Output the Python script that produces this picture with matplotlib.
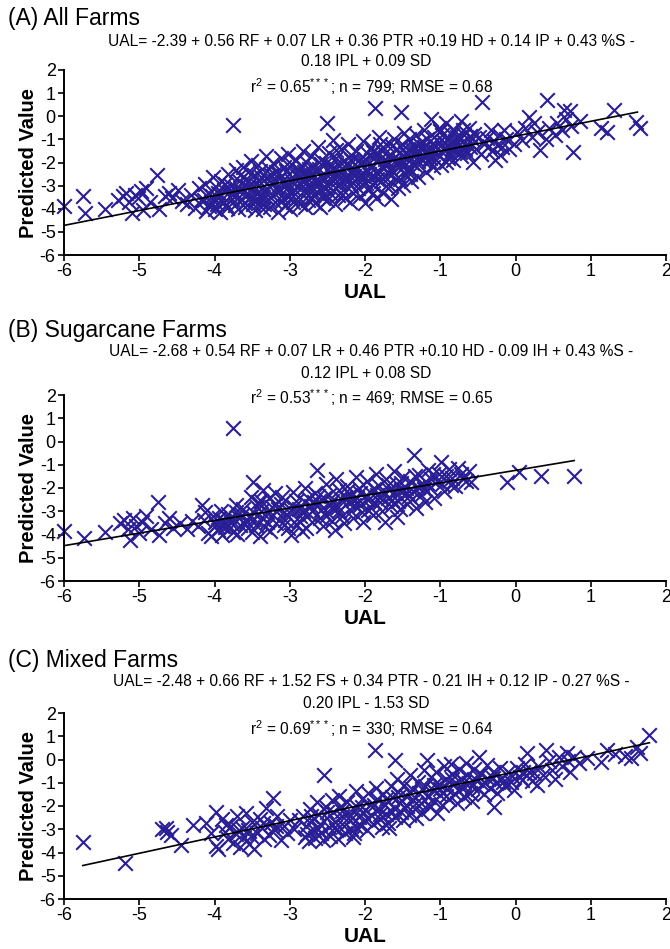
import matplotlib
matplotlib.use("Agg")
import matplotlib.pyplot as plt

plt.rcParams['font.family'] = ['Liberation Sans', 'DejaVu Sans']
plt.rcParams['mathtext.fontset'] = 'custom'
plt.rcParams['mathtext.rm'] = 'Liberation Sans'
plt.rcParams['mathtext.it'] = 'Liberation Sans:italic'

# ---------------- data ----------------
titles = ["(A) All Farms", "(B) Sugarcane Farms", "(C) Mixed Farms"]
eq_line1 = ["UAL= -2.39 + 0.56 RF + 0.07 LR + 0.36 PTR +0.19 HD + 0.14 IP + 0.43 %S -",
            "UAL= -2.68 + 0.54 RF + 0.07 LR + 0.46 PTR +0.10 HD - 0.09 IH + 0.43 %S -",
            "UAL= -2.48 + 0.66 RF + 1.52 FS + 0.34 PTR - 0.21 IH + 0.12 IP - 0.27 %S -"]
eq_line2 = ["0.18 IPL + 0.09 SD", "0.12 IPL + 0.08 SD", "0.20 IPL - 1.53 SD"]
r2_vals = ["0.65", "0.53", "0.69"]
n_vals = ["799", "469", "330"]
rmse_vals = ["0.68", "0.65", "0.64"]

x_ticks = [-6, -5, -4, -3, -2, -1, 0, 1, 2]
y_ticks = [-6, -5, -4, -3, -2, -1, 0, 1, 2]

fit_a_x = [-6.0, 1.62]
fit_a_y = [-4.72, 0.18]
fit_b_x = [-6.0, 0.78]
fit_b_y = [-4.48, -0.82]
fit_c_x = [-5.75, 1.78]
fit_c_y = [-4.56, 0.72]

a_pairs = [
(-6.00,-3.90),(-5.75,-3.45),(-5.72,-4.20),(-5.45,-4.00),(-5.28,-3.60),(-5.22,-3.45),(-5.18,-3.30),(-5.13,-3.70),
(-5.10,-4.20),(-5.06,-3.40),(-5.02,-3.55),(-4.98,-3.25),(-4.95,-4.05),(-4.91,-3.10),(-4.86,-3.70),(-4.76,-2.55),
(-4.74,-4.00),(-4.66,-3.45),(-4.61,-3.30),(-4.56,-3.55),(-4.49,-3.20),(-4.43,-3.65),(-4.36,-3.80),(-4.31,-3.40),
(-4.26,-3.95),(-4.21,-3.10),(-4.18,-3.60),
(-4.12,-2.92),(-4.09,-3.31),(-4.14,-3.62),(-4.07,-3.88),(-4.11,-4.10),
(-4.02,-2.62),(-3.98,-3.08),(-4.03,-3.47),(-3.97,-3.79),(-4.00,-4.02),
(-3.92,-2.81),(-3.88,-3.19),(-3.91,-3.42),(-3.87,-3.70),(-3.93,-4.12),
(-3.82,-2.48),(-3.78,-3.02),(-3.81,-3.29),(-3.77,-3.58),(-3.83,-3.96),
(-3.75,-0.38),
(-3.72,-2.31),(-3.68,-2.79),(-3.71,-3.12),(-3.67,-3.49),(-3.73,-3.82),(-3.69,-4.02),
(-3.62,-2.18),(-3.58,-2.71),(-3.61,-2.98),(-3.57,-3.31),(-3.63,-3.61),(-3.59,-3.92),
(-3.52,-1.92),(-3.48,-2.52),(-3.51,-2.88),(-3.47,-3.18),(-3.53,-3.49),(-3.49,-3.81),(-3.46,-4.06),
(-3.42,-2.09),(-3.38,-2.61),(-3.41,-2.82),(-3.37,-3.12),(-3.43,-3.38),(-3.39,-3.71),(-3.36,-3.99),
(-3.32,-1.72),(-3.28,-2.28),(-3.31,-2.69),(-3.27,-3.02),(-3.33,-3.29),(-3.29,-3.58),(-3.26,-3.91),
(-3.22,-2.02),(-3.18,-2.42),(-3.21,-2.79),(-3.17,-3.08),(-3.23,-3.41),(-3.19,-3.69),(-3.16,-4.12),
(-3.12,-1.81),(-3.08,-2.19),(-3.11,-2.61),(-3.07,-2.88),(-3.13,-3.19),(-3.09,-3.52),(-3.06,-3.86),
(-3.02,-1.62),(-2.98,-2.08),(-3.01,-2.49),(-2.97,-2.81),(-3.03,-3.09),(-2.99,-3.38),(-2.96,-3.71),(-3.00,-4.01),
(-2.92,-1.88),(-2.88,-2.31),(-2.91,-2.58),(-2.87,-2.91),(-2.93,-3.21),(-2.89,-3.49),(-2.86,-3.79),
(-2.82,-1.52),(-2.78,-1.98),(-2.81,-2.41),(-2.77,-2.69),(-2.83,-3.02),(-2.79,-3.31),(-2.76,-3.62),(-2.80,-3.92),
(-2.72,-1.71),(-2.68,-2.19),(-2.71,-2.52),(-2.67,-2.79),(-2.73,-3.12),(-2.69,-3.41),(-2.66,-3.76),
(-2.62,-1.31),(-2.58,-1.91),(-2.61,-2.29),(-2.57,-2.61),(-2.63,-2.88),(-2.59,-3.19),(-2.56,-3.52),(-2.60,-3.91),
(-2.51,-0.29),(-2.48,-1.61),(-2.52,-2.02),(-2.47,-2.38),(-2.53,-2.71),(-2.49,-3.02),(-2.46,-3.31),(-2.50,-3.62),
(-2.42,-1.02),(-2.38,-1.79),(-2.41,-2.21),(-2.37,-2.49),(-2.43,-2.81),(-2.39,-3.09),(-2.36,-3.42),(-2.40,-3.81),
(-2.32,-1.41),(-2.28,-1.92),(-2.31,-2.28),(-2.27,-2.61),(-2.33,-2.91),(-2.29,-3.18),(-2.26,-3.52),
(-2.22,-1.19),(-2.18,-1.69),(-2.21,-2.09),(-2.17,-2.41),(-2.23,-2.69),(-2.19,-2.98),(-2.16,-3.31),(-2.20,-3.69),
(-2.12,-1.49),(-2.08,-1.88),(-2.11,-2.19),(-2.07,-2.52),(-2.13,-2.81),(-2.09,-3.12),(-2.06,-3.46),
(-2.02,-1.09),(-1.98,-1.61),(-2.01,-1.98),(-1.97,-2.31),(-2.03,-2.59),(-1.99,-2.88),(-1.96,-3.21),(-2.00,-3.76),
(-1.87,0.36),(-1.92,-1.31),(-1.88,-1.79),(-1.91,-2.11),(-1.86,-2.41),(-1.93,-2.69),(-1.89,-2.99),(-1.85,-3.52),
(-1.82,-0.91),(-1.78,-1.49),(-1.81,-1.88),(-1.77,-2.21),(-1.83,-2.49),(-1.79,-2.81),(-1.76,-3.31),
(-1.72,-1.19),(-1.68,-1.71),(-1.71,-2.02),(-1.67,-2.29),(-1.73,-2.61),(-1.69,-2.92),(-1.66,-3.58),
(-1.62,-0.98),(-1.58,-1.42),(-1.61,-1.79),(-1.57,-2.12),(-1.63,-2.39),(-1.59,-2.71),(-1.56,-3.09),
(-1.52,0.18),(-1.48,-0.71),(-1.51,-1.21),(-1.47,-1.61),(-1.53,-1.92),(-1.49,-2.21),(-1.46,-2.52),(-1.50,-2.98),
(-1.42,-0.98),(-1.38,-1.41),(-1.41,-1.72),(-1.37,-2.01),(-1.43,-2.29),(-1.39,-2.79),
(-1.32,-0.79),(-1.28,-1.19),(-1.31,-1.52),(-1.27,-1.81),(-1.33,-2.09),(-1.29,-2.61),
(-1.22,-0.61),(-1.18,-0.98),(-1.21,-1.31),(-1.17,-1.62),(-1.23,-1.91),(-1.19,-2.41),
(-1.12,-0.12),(-1.08,-0.89),(-1.11,-1.21),(-1.07,-1.52),(-1.13,-1.79),(-1.09,-2.19),
(-1.02,-0.49),(-0.98,-0.81),(-1.01,-1.12),(-0.97,-1.41),(-1.03,-1.69),(-0.99,-2.09),
(-0.92,-0.31),(-0.88,-0.99),(-0.91,-1.29),(-0.87,-1.61),(-0.93,-1.96),
(-0.82,-0.59),(-0.78,-0.91),(-0.81,-1.21),(-0.77,-1.49),(-0.83,-1.89),
(-0.72,-0.21),(-0.68,-0.79),(-0.71,-1.11),(-0.67,-1.41),(-0.73,-1.71),
(-0.62,-0.52),(-0.58,-0.98),(-0.61,-1.31),(-0.57,-1.98),
(-0.44,0.60),(-0.48,-0.88),(-0.42,-1.19),(-0.46,-1.62),
(-0.32,-0.61),(-0.28,-1.09),(-0.31,-1.49),(-0.27,-1.91),
(-0.22,-0.79),(-0.18,-1.31),(-0.21,-1.69),
(-0.12,-0.98),(-0.08,-1.42),
(0.02,-0.69),(-0.02,-1.21),
(0.12,-0.49),(0.08,-1.01),
(0.18,-0.03),(0.22,-0.89),(0.25,-0.31),
(0.32,-1.46),(0.28,-0.69),
(0.42,0.70),(0.45,-0.49),(0.40,-0.99),
(0.55,-0.29),(0.52,-0.81),
(0.64,0.29),(0.67,-0.11),(0.62,-0.61),
(0.72,0.22),(0.74,-0.41),
(0.76,-1.55),(0.86,-0.19),
(1.14,-0.50),(1.22,-0.70),(1.31,0.27),(1.60,-0.25),(1.65,-0.52),
(-3.95,-3.55),(-3.85,-3.85),(-3.65,-3.20),(-3.55,-2.40),(-3.45,-2.95),(-3.35,-3.50),(-3.25,-2.55),(-3.15,-3.25),
(-3.05,-2.35),(-2.95,-2.95),(-2.85,-2.15),(-2.75,-2.95),(-2.65,-2.40),(-2.55,-3.05),(-2.45,-2.15),(-2.35,-2.70),
(-2.25,-2.05),(-2.15,-2.60),(-2.05,-2.05),(-1.95,-2.50),(-1.85,-1.60),(-1.75,-2.05),(-1.65,-2.55),(-1.55,-1.60),
(-1.45,-2.05),(-1.35,-1.65),(-1.25,-1.40),(-1.15,-1.95),(-1.05,-1.30),(-0.95,-1.10),(-0.85,-1.40),(-0.75,-0.95),
(-0.65,-1.20),(-0.55,-0.75),(-3.60,-3.75),(-3.10,-3.65),(-2.70,-3.55),(-2.30,-3.40),(-1.90,-3.30),(-1.70,-3.10),
(-4.05,-3.70),(-3.96,-3.30),(-3.86,-2.95),(-3.76,-3.35),(-3.66,-2.55),(-3.56,-3.05),(-3.46,-3.60),(-3.40,-2.35),
(-3.34,-3.80),(-3.24,-2.90),(-3.14,-2.45),(-3.04,-2.95),(-2.98,-3.55),(-2.90,-2.45),(-2.84,-2.75),(-2.74,-2.30),
(-2.70,-3.25),(-2.64,-2.70),(-2.58,-2.05),(-2.54,-3.35),(-2.44,-2.60),(-2.38,-1.45),(-2.34,-2.10),(-2.24,-2.85),
(-2.18,-1.90),(-2.14,-2.30),(-2.04,-2.75),(-2.00,-1.85),(-1.94,-2.20),(-1.90,-1.55),(-1.84,-2.70),(-1.80,-1.20),
(-1.74,-1.85),(-1.70,-2.45),(-1.64,-1.30),(-1.60,-1.95),(-1.54,-2.70),(-1.50,-1.40),(-1.44,-1.85),(-1.40,-2.50),
(-1.34,-1.35),(-1.30,-1.95),(-1.24,-1.10),(-1.20,-1.75),(-1.14,-1.40),(-1.06,-1.90),(-1.00,-0.65),(-0.94,-1.45),
(-0.90,-1.80),(-0.84,-0.80),(-0.80,-1.05),(-0.74,-1.55),(-0.70,-0.60),(-0.64,-1.60),(-0.60,-0.85),(-0.52,-1.40),
(-0.38,-0.95),(-0.35,-1.30),(-0.25,-1.25),(-0.15,-0.60),
]

b_pairs = [
(-6.00,-3.85),(-5.74,-4.15),(-5.45,-3.90),(-5.26,-3.50),(-5.20,-3.38),(-5.15,-3.75),(-5.12,-4.25),(-5.08,-3.30),
(-5.04,-3.62),(-5.00,-3.95),(-4.96,-3.45),(-4.91,-3.20),(-4.85,-3.75),(-4.75,-2.60),(-4.74,-4.00),(-4.66,-3.50),
(-4.61,-3.30),(-4.55,-3.72),(-4.46,-3.52),(-4.36,-3.78),(-4.30,-3.40),(-4.22,-3.62),(-4.17,-2.75),(-4.12,-3.05),
(-4.08,-3.92),(-4.14,-3.38),(-4.05,-4.05),
(-4.02,-3.21),(-3.98,-3.58),(-3.96,-3.81),(-3.92,-2.98),(-3.88,-3.42),(-3.86,-3.69),(-3.90,-4.02),
(-3.75,0.60),
(-3.82,-3.12),(-3.78,-3.52),(-3.76,-3.88),(-3.72,-2.71),(-3.68,-3.28),(-3.66,-3.61),(-3.70,-3.99),
(-3.62,-2.92),(-3.58,-3.41),(-3.56,-3.72),(-3.52,-2.38),(-3.49,-1.75),(-3.47,-3.09),(-3.45,-3.58),(-3.50,-3.91),
(-3.42,-2.61),(-3.38,-2.99),(-3.35,-2.10),(-3.36,-3.32),(-3.33,-3.69),(-3.40,-4.05),
(-3.28,-2.42),(-3.24,-2.81),(-3.22,-3.18),(-3.18,-3.51),(-3.26,-3.85),(-3.20,-2.21),
(-3.12,-2.68),(-3.08,-3.02),(-3.06,-3.38),(-3.02,-3.72),(-3.10,-2.39),(-2.98,-4.00),
(-2.96,-2.19),(-2.92,-2.58),(-2.88,-2.91),(-2.86,-3.22),(-2.90,-3.58),(-2.84,-3.85),
(-2.80,-2.02),(-2.76,-2.42),(-2.72,-2.79),(-2.74,-3.11),(-2.70,-3.48),(-2.78,-3.72),
(-2.64,-1.23),(-2.66,-2.21),(-2.62,-2.61),(-2.58,-2.95),(-2.60,-3.31),(-2.56,-3.62),
(-2.52,-1.82),(-2.48,-2.31),(-2.46,-2.71),(-2.50,-3.05),(-2.44,-3.41),(-2.40,-3.80),
(-2.38,-1.62),(-2.34,-2.08),(-2.32,-2.49),(-2.36,-2.82),(-2.30,-3.19),(-2.28,-3.52),
(-2.24,-1.91),(-2.20,-2.29),(-2.22,-2.62),(-2.18,-2.98),(-2.16,-3.29),
(-2.12,-1.52),(-2.08,-2.01),(-2.10,-2.41),(-2.06,-2.72),(-2.03,-3.46),(-2.04,-3.05),
(-1.98,-1.72),(-1.94,-2.19),(-1.96,-2.52),(-1.92,-2.85),(-1.90,-3.18),
(-1.86,-1.39),(-1.82,-1.91),(-1.84,-2.31),(-1.80,-2.62),(-1.78,-2.98),(-1.74,-3.46),
(-1.72,-1.61),(-1.68,-2.08),(-1.70,-2.42),(-1.66,-2.79),(-1.58,-3.25),
(-1.62,-1.29),(-1.58,-1.82),(-1.60,-2.21),(-1.56,-2.55),(-1.54,-2.92),
(-1.50,-1.51),(-1.46,-1.98),(-1.48,-2.32),(-1.44,-2.68),
(-1.35,-0.59),(-1.40,-1.72),(-1.36,-2.12),(-1.38,-2.49),(-1.32,-2.85),
(-1.28,-1.42),(-1.24,-1.88),(-1.26,-2.28),(-1.20,-2.62),
(-1.16,-1.21),(-1.12,-1.62),(-1.14,-2.02),(-1.08,-2.41),
(-0.99,-0.87),(-1.02,-1.39),(-0.98,-1.81),(-0.95,-2.12),
(-0.88,-1.19),(-0.84,-1.58),(-0.77,-1.15),(-0.80,-1.92),
(-0.72,-1.39),(-0.66,-1.72),(-0.59,-1.75),(-0.62,-1.29),
(-0.11,-1.75),(0.05,-1.30),(0.34,-1.50),(0.78,-1.50),
(-3.94,-3.30),(-3.80,-3.70),(-3.64,-3.15),(-3.54,-3.25),(-3.44,-2.80),(-3.30,-3.05),(-3.16,-2.90),(-3.04,-3.15),
(-2.94,-2.80),(-2.82,-3.00),(-2.68,-2.60),(-2.54,-2.45),(-2.42,-2.90),(-2.26,-2.40),(-2.14,-2.75),(-2.00,-2.35),
(-1.88,-2.60),(-1.76,-2.20),(-1.64,-2.50),(-1.52,-2.10),(-1.42,-2.35),(-1.30,-1.95),(-1.18,-1.80),(-1.04,-1.70),
(-4.00,-3.45),(-3.90,-3.65),(-3.80,-3.35),(-3.72,-3.05),(-3.60,-3.55),(-3.48,-3.35),(-3.38,-2.55),(-3.30,-3.45),
(-3.18,-2.70),(-3.08,-3.60),(-2.98,-2.95),(-2.88,-3.40),(-2.80,-2.60),(-2.70,-3.00),(-2.62,-2.35),(-2.52,-3.20),
(-2.44,-2.55),(-2.34,-3.00),(-2.24,-2.15),(-2.16,-2.50),(-2.06,-2.20),(-1.96,-2.95),(-1.88,-2.05),(-1.80,-2.40),
(-1.70,-1.85),(-1.62,-2.65),(-1.52,-1.80),(-1.44,-2.20),(-1.34,-1.50),(-1.22,-2.05),(-1.10,-1.40),(-0.92,-1.50),
(-0.86,-1.85),(-0.70,-1.60),
]

c_pairs = [
(-5.75,-3.53),(-5.19,-4.45),(-4.70,-3.00),(-4.64,-2.95),(-4.63,-3.12),(-4.58,-3.25),(-4.44,-3.68),(-4.29,-2.80),
(-4.11,-2.73),(-4.05,-3.15),(-3.98,-2.25),(-3.98,-3.70),(-3.95,-3.85),
(-3.90,-2.55),(-3.86,-3.10),(-3.82,-3.40),(-3.78,-2.85),(-3.75,-3.60),(-3.72,-3.20),(-3.70,-2.45),(-3.66,-3.75),
(-3.64,-2.95),(-3.61,-3.35),(-3.58,-2.30),(-3.56,-3.05),(-3.54,-3.65),(-3.50,-2.70),(-3.47,-3.85),(-3.44,-3.15),
(-3.40,-2.55),(-3.37,-2.95),(-3.34,-3.40),(-3.31,-2.10),(-3.28,-3.25),(-3.25,-2.75),(-3.22,-1.65),(-3.20,-3.05),
(-3.17,-2.45),(-3.12,-3.45),(-3.08,-2.85),(-3.04,-3.15),(-3.00,-2.60),(-2.95,-3.00),
(-2.82,-2.42),(-2.79,-2.88),(-2.77,-3.21),(-2.75,-3.52),(-2.73,-2.11),(-2.70,-2.65),(-2.68,-3.02),(-2.66,-3.38),
(-2.64,-1.82),(-2.62,-2.35),(-2.60,-2.78),(-2.58,-3.15),(-2.56,-3.48),(-2.54,-0.67),(-2.52,-2.05),(-2.50,-2.52),
(-2.48,-2.92),(-2.46,-3.28),(-2.44,-1.75),(-2.42,-2.25),(-2.40,-2.68),(-2.38,-3.05),(-2.36,-3.42),(-2.34,-1.55),
(-2.32,-2.02),(-2.30,-2.45),(-2.28,-2.85),(-2.26,-3.18),(-2.24,-1.82),(-2.22,-2.28),(-2.20,-2.62),(-2.18,-2.98),
(-2.16,-3.35),(-2.14,-3.17),(-2.12,-1.35),(-2.10,-2.05),(-2.08,-2.48),(-2.06,-2.82),(-2.04,-1.68),(-2.02,-2.25),
(-2.00,-2.62),(-1.98,-3.02),(-1.96,-1.45),(-1.94,-1.95),(-1.92,-2.38),(-1.90,-2.78),
(-1.87,0.41),(-1.86,-1.22),(-1.84,-1.72),(-1.82,-2.15),(-1.80,-2.55),(-1.78,-2.92),(-1.76,-1.48),(-1.74,-1.95),
(-1.72,-2.35),(-1.70,-2.72),(-1.68,-2.95),(-1.66,-1.15),(-1.64,-1.62),(-1.62,-2.08),(-1.60,0.00),(-1.60,-2.48),
(-1.58,-0.85),(-1.56,-1.38),(-1.54,-1.85),(-1.52,-2.25),(-1.50,-2.62),(-1.48,-1.08),(-1.46,-1.55),(-1.44,-1.98),
(-1.42,-2.38),(-1.40,-0.65),(-1.38,-1.28),(-1.36,-1.75),(-1.34,-2.15),(-1.32,-2.52),(-1.30,-0.95),(-1.28,-1.45),
(-1.26,-1.88),(-1.24,-2.28),(-1.22,-0.45),(-1.20,-1.15),(-1.17,-0.02),(-1.16,-1.62),(-1.14,-2.05),(-1.12,-0.75),
(-1.10,-1.32),(-1.08,-1.78),(-1.04,-2.30),(-1.05,-0.55),(-1.02,-1.05),(-1.00,-1.52),(-0.98,-1.95),(-0.95,-0.30),
(-0.93,-0.85),(-0.91,-1.25),(-0.89,-1.68),(-0.86,-0.20),(-0.84,-0.62),(-0.82,-1.05),(-0.80,-1.48),(-0.78,-1.88),
(-0.75,-0.40),(-0.73,-0.85),(-0.71,-1.22),(-0.69,-1.62),(-0.66,-0.15),(-0.64,-0.65),(-0.62,-1.02),(-0.60,-1.42),
(-0.58,-1.78),(-0.55,-0.42),(-0.52,-0.88),(-0.50,-1.25),(-0.48,0.10),(-0.46,-0.62),(-0.44,-1.05),(-0.42,-1.48),
(-0.38,-0.25),(-0.36,-0.82),(-0.34,-1.22),(-0.30,-0.55),(-0.28,-2.04),(-0.26,-1.02),(-0.24,-1.42),(-0.20,-0.35),
(-0.18,-0.78),(-0.14,-1.15),(-0.10,-0.55),(-0.06,-0.95),(-0.02,-1.30),(0.02,-0.38),(0.06,-0.75),(0.08,-0.90),
(0.12,-0.18),(0.15,0.27),(0.18,-0.55),(0.22,-0.92),(0.28,-1.10),(0.30,-0.30),(0.36,-0.65),(0.40,0.41),
(0.44,-0.05),(0.48,-0.45),(0.52,-0.82),(0.58,0.10),(0.62,-0.30),(0.68,0.27),(0.70,-0.05),(0.72,-0.55),
(0.78,0.12),(0.85,-0.15),(0.95,0.05),(1.14,-0.10),(1.22,0.41),(1.32,0.25),(1.45,0.15),(1.53,0.06),
(1.61,0.54),(1.65,0.30),(1.77,1.05),
(-3.85,-2.80),(-3.68,-3.05),(-3.52,-3.30),(-3.35,-2.75),(-3.18,-2.85),(-2.88,-2.60),(-2.80,-3.35),(-2.72,-2.45),
(-2.62,-3.00),(-2.50,-2.25),(-2.40,-2.90),(-2.30,-2.20),(-2.20,-2.45),(-2.12,-2.90),(-2.04,-2.05),(-1.96,-2.55),
(-1.88,-1.95),(-1.80,-2.35),(-1.72,-1.70),(-1.64,-2.25),(-1.56,-1.60),(-1.48,-2.05),(-1.40,-1.45),(-1.32,-1.85),
(-1.24,-1.25),(-1.16,-1.90),(-1.08,-1.10),(-1.00,-1.25),(-0.92,-1.55),(-0.84,-0.85),(-0.76,-1.30),(-0.68,-0.95),
(-0.58,-1.15),(-0.50,-0.70),(-0.40,-1.00),(-0.30,-0.80),(-0.16,-0.95),(-0.04,-0.70),(0.10,-0.55),(0.25,-0.60),
]

# ---------------- figure ----------------
W, H = 670, 949
fig = plt.figure(figsize=(W / 100, H / 100), dpi=100)

marker_color = "#2A1E96"

# axes placement in pixels: (left, top, right, bottom)
ax_px = [(64, 70, 666, 255), (64, 395, 666, 581), (64, 713, 666, 899)]
title_y = [18, 330, 660]
eq1_y = [41, 352, 682]
eq2_y = [62, 373, 704]
r2_y = [87, 398, 729]

pairs_all = [a_pairs, b_pairs, c_pairs]
fits = [(fit_a_x, fit_a_y), (fit_b_x, fit_b_y), (fit_c_x, fit_c_y)]

for i in range(3):
    l, t, r, b = ax_px[i]
    ax = fig.add_axes([l / W, 1 - b / H, (r - l) / W, (b - t) / H])
    xs = [p[0] for p in pairs_all[i]]
    ys = [p[1] for p in pairs_all[i]]
    ax.scatter(xs, ys, marker='x', s=110, c=marker_color, linewidths=1.5, zorder=2, clip_on=False)
    fx, fy = fits[i]
    ax.plot(fx, fy, color='black', lw=1.2, zorder=3)
    ax.set_xlim(-6, 2)
    ax.set_ylim(-6, 2)
    ax.set_xticks(x_ticks)
    ax.set_yticks(y_ticks)
    ax.set_xticklabels([str(v) for v in x_ticks])
    ax.set_yticklabels([str(v) for v in y_ticks])
    for s in ['top', 'right']:
        ax.spines[s].set_visible(False)
    for s in ['left', 'bottom']:
        ax.spines[s].set_linewidth(1.4)
    ax.tick_params(direction='out', length=4, width=1.2, labelsize=13, pad=2)
    ax.set_xlabel("UAL", fontsize=15, fontweight='bold', labelpad=2)
    ax.set_ylabel("Predicted Value", fontsize=14.5, fontweight='bold', labelpad=1)
    ax.patch.set_alpha(0)

    fig.text(8 / W, 1 - title_y[i] / H, titles[i], fontsize=16.5, ha='left', va='center')
    fig.text(371 / W, 1 - eq1_y[i] / H, eq_line1[i], fontsize=11.2, ha='center', va='center')
    fig.text(366 / W, 1 - eq2_y[i] / H, eq_line2[i], fontsize=11.2, ha='center', va='center')
    fig.text(372 / W, 1 - r2_y[i] / H,
             r"r$^\mathrm{2}$ = " + r2_vals[i] + r"$^\mathrm{***}$; n = " + n_vals[i] + "; RMSE = " + rmse_vals[i],
             fontsize=11.2, ha='center', va='center')

fig.savefig("out.png", dpi=100, facecolor='white')
